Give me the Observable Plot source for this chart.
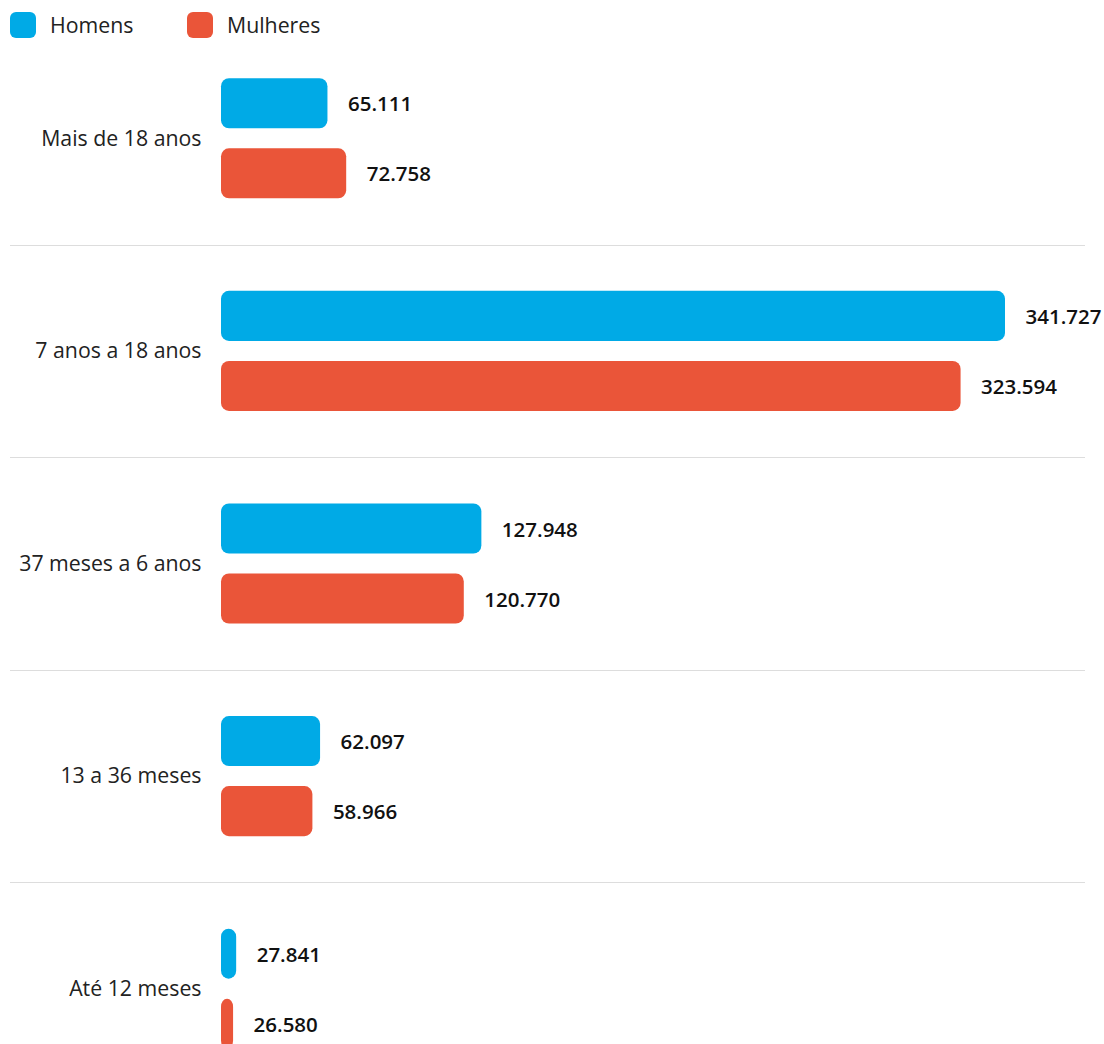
<!DOCTYPE html>
<html><head><meta charset="utf-8">
<script src="https://cdn.jsdelivr.net/npm/d3@7"></script>
<script src="https://cdn.jsdelivr.net/npm/@observablehq/plot@0.6"></script>
<style>
html,body{margin:0;padding:0;overflow:hidden;background:#fff;font-family:"Open Sans",sans-serif;}
#legend{position:relative;height:32px;}
.item{position:absolute;top:12px;display:flex;align-items:center;font-size:21.3px;line-height:26px;color:#222;}
.sw{width:26px;height:26px;border-radius:6px;margin-right:14px;}
</style></head><body>
<div id="legend"></div>
<div id="chart"></div>
<script>
const categories = ["Mais de 18 anos", "7 anos a 18 anos", "37 meses a 6 anos", "13 a 36 meses", "Até 12 meses"];
const series = ["Homens", "Mulheres"];
const homens = [65111, 341727, 127948, 62097, 27841];
const mulheres = [72758, 323594, 120770, 58966, 26580];
const colors = ["#00AAE6", "#EA5539"];

const data = [];
categories.forEach((c, i) => {
  data.push({cat: c, sex: series[0], value: homens[i]});
  data.push({cat: c, sex: series[1], value: mulheres[i]});
});

const fmt = d3.formatLocale({decimal: ",", thousands: ".", grouping: [3], currency: ["R$", ""]}).format(",d");

// legend
const legend = d3.select("#legend");
const legendX = [10, 187];
series.forEach((s, i) => {
  const it = legend.append("div").attr("class", "item").style("left", legendX[i] + "px");
  it.append("div").attr("class", "sw").style("background", colors[i]);
  it.append("span").text(s);
});

const W = 1104, H = 1063;
const chart = Plot.plot({
  width: W,
  height: H,
  marginLeft: 221,
  marginRight: 99,
  marginTop: 0,
  marginBottom: 0,
  style: {fontFamily: "Open Sans, sans-serif", fontSize: "21.3px", color: "#222", background: "#fff"},
  x: {domain: [21650, 341727], clamp: true, axis: null},
  y: {domain: series, axis: null, paddingInner: 20 / 70, paddingOuter: 0.6607, round: false},
  fy: {domain: categories, padding: 0, round: false, axis: "left", label: null, tickSize: 0, tickPadding: 20},
  color: {domain: series, range: colors},
  facet: {marginTop: 0, marginBottom: 0, marginLeft: 221, marginRight: 99},
  marks: [
    Plot.barX(data, {fy: "cat", y: "sex", x: "value", fill: "sex", rx: 8}),
    Plot.text(data, {fy: "cat", y: "sex", x: "value", text: d => fmt(d.value), dx: 20, dy: 1, textAnchor: "start", fontWeight: 600, fontSize: 20.5, fill: "#111"})
  ]
});
document.getElementById("chart").appendChild(chart);

// dividers between groups, positioned with the fy scale
const fy = chart.scale("fy");
const band = d3.scaleBand().domain(fy.domain).range(fy.range).paddingInner(fy.paddingInner || 0).paddingOuter(fy.paddingOuter || 0);
const svg = d3.select(chart);
categories.slice(0, -1).forEach(c => {
  const y = Math.round(band(c) + band.bandwidth()) + 0.5;
  svg.insert("line", ":first-child").attr("x1", 10).attr("x2", 1085).attr("y1", y).attr("y2", y)
    .attr("stroke", "#dddddd").attr("stroke-width", 1);
});
</script>
</body></html>
